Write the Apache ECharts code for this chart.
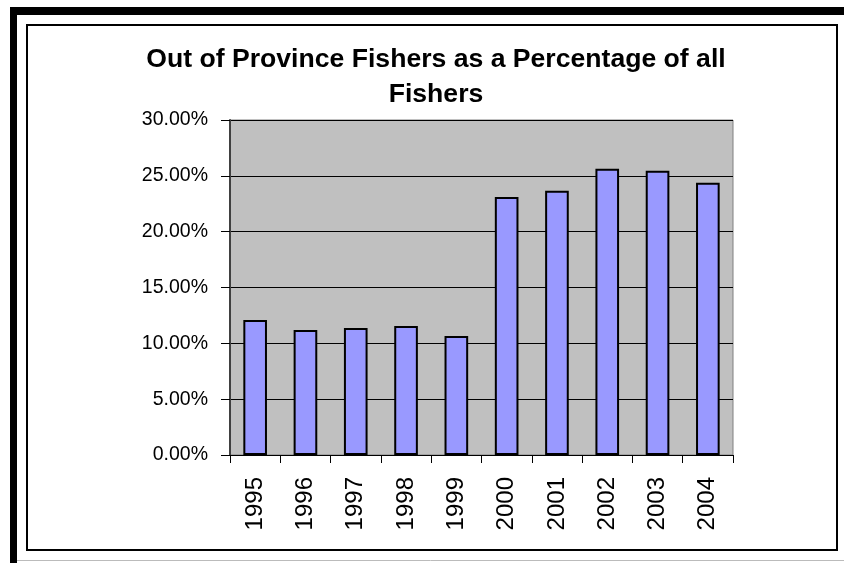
<!DOCTYPE html>
<html>
<head>
<meta charset="utf-8">
<script src="https://cdn.jsdelivr.net/npm/echarts@6/dist/echarts.min.js"></script>
<style>
html,body{margin:0;padding:0;background:#fff;}
#chart{width:844px;height:563px;}
</style>
</head>
<body>
<div id="chart"></div>
<script>
var titleText = 'Out of Province Fishers as a Percentage of all\nFishers';
var years = ['1995','1996','1997','1998','1999','2000','2001','2002','2003','2004'];
var pctValues = [0.1209, 0.1119, 0.1137, 0.1155, 0.1066, 0.2310, 0.2367, 0.2564, 0.2546, 0.2439];
var yMin = 0, yMax = 0.30, yStep = 0.05;

var chart = echarts.init(document.getElementById('chart'), null, {renderer: 'canvas'});
var font = 'Liberation Sans, Arial, sans-serif';
chart.setOption({
  animation: false,
  backgroundColor: '#ffffff',
  graphic: [
    {type: 'rect', z: -10, shape: {x: 10, y: 7, width: 834, height: 8}, style: {fill: '#000'}},
    {type: 'rect', z: -10, shape: {x: 10, y: 7, width: 7, height: 556}, style: {fill: '#000'}},
    {type: 'rect', z: -10, shape: {x: 27, y: 25, width: 810, height: 525}, style: {fill: 'none', stroke: '#000', lineWidth: 2}},
    {type: 'line', z: -10, shape: {x1: 17, y1: 560.5, x2: 844, y2: 560.5}, style: {stroke: '#bbb', lineWidth: 1}}
  ],
  title: {
    text: titleText,
    left: 431,
    top: 37,
    textAlign: 'center',
    textStyle: {fontFamily: font, fontWeight: 'bold', fontSize: 26.6, lineHeight: 35, color: '#000'}
  },
  grid: {
    left: 230, right: 111, top: 120, bottom: 108,
    show: true, backgroundColor: '#C0C0C0', borderColor: '#808080', borderWidth: 1
  },
  xAxis: {
    type: 'category',
    data: years,
    boundaryGap: true,
    axisLine: {lineStyle: {color: '#000', width: 1}},
    axisTick: {show: true, inside: false, length: 8, lineStyle: {color: '#000'}},
    axisLabel: {rotate: 90, margin: 22, fontFamily: font, fontSize: 24, color: '#000', interval: 0}
  },
  yAxis: {
    type: 'value',
    min: yMin, max: yMax, interval: yStep,
    axisLine: {show: true, lineStyle: {color: '#404040', width: 2}},
    axisTick: {show: true, inside: false, length: 9, lineStyle: {color: '#000'}},
    axisLabel: {margin: 22, fontFamily: font, fontSize: 19.5, color: '#000',
      formatter: function (v) { return (v * 100).toFixed(2) + '%'; }},
    splitLine: {show: true, lineStyle: {color: '#000', width: 1}}
  },
  series: [{
    type: 'bar',
    data: pctValues,
    barWidth: '47%',
    itemStyle: {color: '#9999FF', borderColor: '#000', borderWidth: 2}
  }]
});
</script>
</body>
</html>
